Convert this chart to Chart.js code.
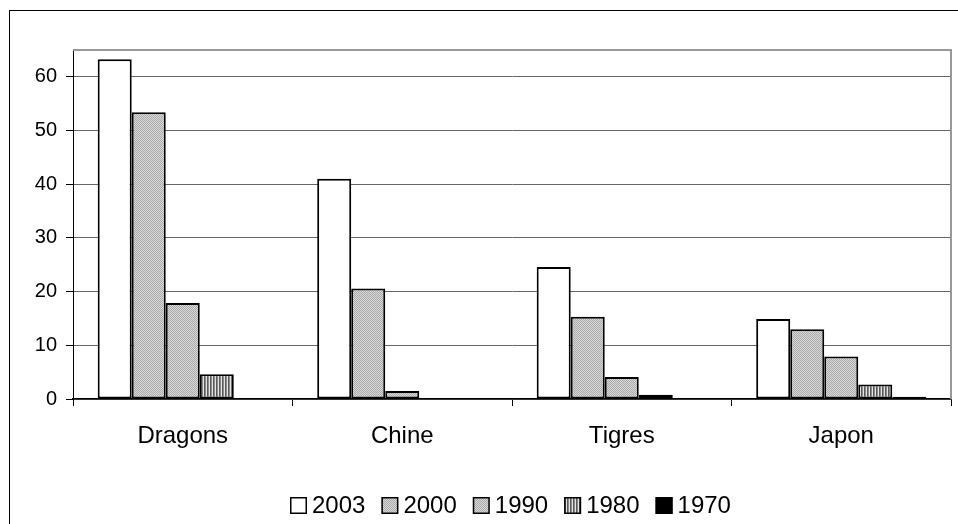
<!DOCTYPE html>
<html>
<head>
<meta charset="utf-8">
<script src="https://cdn.jsdelivr.net/npm/chart.js@4.4.1/dist/chart.umd.min.js"></script>
<style>
  html, body { margin: 0; padding: 0; background: #fff; }
  #wrap { width: 958px; height: 524px; position: relative; }
</style>
</head>
<body>
<div id="wrap"><canvas id="c" width="958" height="524"></canvas></div>
<script>
// Regions and years
const categories = ['Dragons', 'Chine', 'Tigres', 'Japon'];
const years = ['2003', '2000', '1990', '1980', '1970'];

// Values per year, one entry per region (null = no bar)
const v2003 = [63.3, 41.0, 24.6, 14.9];
const v2000 = [53.4, 20.6, 15.3, 13.0];
const v1990 = [17.9, 1.5, 4.1, 7.9];
const v1980 = [4.6, null, 0.8, 2.7];
const v1970 = [null, null, null, 0.4];

const yTicks = [0, 10, 20, 30, 40, 50, 60];

// Fill patterns
function makePattern(w, h, paint) {
  const cv = document.createElement('canvas');
  cv.width = w; cv.height = h;
  const g = cv.getContext('2d');
  paint(g);
  return g.createPattern(cv, 'repeat');
}
const checker = makePattern(2, 2, g => {
  g.fillStyle = '#dadada'; g.fillRect(0, 0, 2, 2);
  g.fillStyle = '#a9a9a9'; g.fillRect(0, 0, 1, 1); g.fillRect(1, 1, 1, 1);
});
const stripes = makePattern(3, 1, g => {
  g.fillStyle = '#e4e4e4'; g.fillRect(0, 0, 3, 1);
  g.fillStyle = '#5a5a5a'; g.fillRect(0, 0, 1, 1);
  g.fillStyle = '#8a8a8a'; g.fillRect(1, 0, 1, 1);
});

const fills = ['#ffffff', checker, checker, stripes, '#000000'];
const series = [v2003, v2000, v1990, v1980, v1970];

const FONT = "'Liberation Sans', Arial, sans-serif";

// Outer frame, plot-area box and the legend row
const framePlugin = {
  id: 'frame',
  beforeDraw(chart) {
    const c = chart.ctx;
    c.save();
    c.fillStyle = '#fff';
    c.fillRect(0, 0, chart.width, chart.height);
    c.strokeStyle = '#000';
    c.lineWidth = 1;
    c.strokeRect(9.5, 10.5, 1200, 1200);
    c.restore();
  },
  afterDatasetsDraw(chart) {
    const a = chart.chartArea;
    const c = chart.ctx;
    c.save();
    c.strokeStyle = '#999';
    c.lineWidth = 2;
    c.beginPath();
    c.moveTo(a.left, a.top);
    c.lineTo(a.right, a.top);
    c.lineTo(a.right, a.bottom);
    c.stroke();
    c.restore();
  },
  afterDraw(chart) {
    const c = chart.ctx;
    const box = 17, gap = 5, spacing = 16;
    const baseY = 513, boxTop = 497;
    c.save();
    c.font = '24px ' + FONT;
    c.textBaseline = 'alphabetic';
    c.fillStyle = '#000';
    const items = chart.data.datasets.map(ds => ({
      text: ds.label, fill: ds.backgroundColor, w: c.measureText(ds.label).width
    }));
    const total = items.reduce((s, it) => s + box + gap + it.w, 0) + spacing * (items.length - 1);
    let x = Math.round(510 - total / 2);
    items.forEach(it => {
      c.fillStyle = it.fill;
      c.fillRect(x, boxTop, box, box);
      c.strokeStyle = '#000';
      c.lineWidth = 1.5;
      c.strokeRect(x + 0.75, boxTop + 0.75, box - 1.5, box - 1.5);
      c.fillStyle = '#000';
      c.fillText(it.text, x + box + gap, baseY);
      x += box + gap + it.w + spacing;
    });
    c.restore();
  }
};

new Chart(document.getElementById('c'), {
  type: 'bar',
  data: {
    labels: categories,
    datasets: years.map((y, i) => ({
      label: y,
      data: series[i],
      backgroundColor: fills[i],
      borderColor: '#000',
      borderWidth: 2,
      borderSkipped: false,
      categoryPercentage: 0.775,
      barPercentage: 1.0
    }))
  },
  options: {
    responsive: false,
    animation: false,
    events: [],
    layout: { padding: { top: 50, right: 7, bottom: 0, left: 0 } },
    plugins: {
      tooltip: { enabled: false },
      legend: { display: false }
    },
    scales: {
      x: {
        afterFit(s) { s.height = 125; },
        grid: { offset: true, drawOnChartArea: false, drawTicks: true, tickLength: 7, tickColor: '#000' },
        border: { color: '#000', width: 1.5 },
        ticks: { color: '#000', font: { family: FONT, size: 24 }, padding: 16 }
      },
      y: {
        min: 0,
        max: 65,
        afterFit(s) { s.width = 73; },
        afterBuildTicks(s) { s.ticks = yTicks.map(v => ({ value: v })); },
        grid: { color: '#666', lineWidth: 1, tickLength: 7, tickColor: '#000' },
        border: { color: '#000', width: 1 },
        ticks: { color: '#000', font: { family: FONT, size: 20 }, padding: 9 }
      }
    }
  },
  plugins: [framePlugin]
});
</script>
</body>
</html>
